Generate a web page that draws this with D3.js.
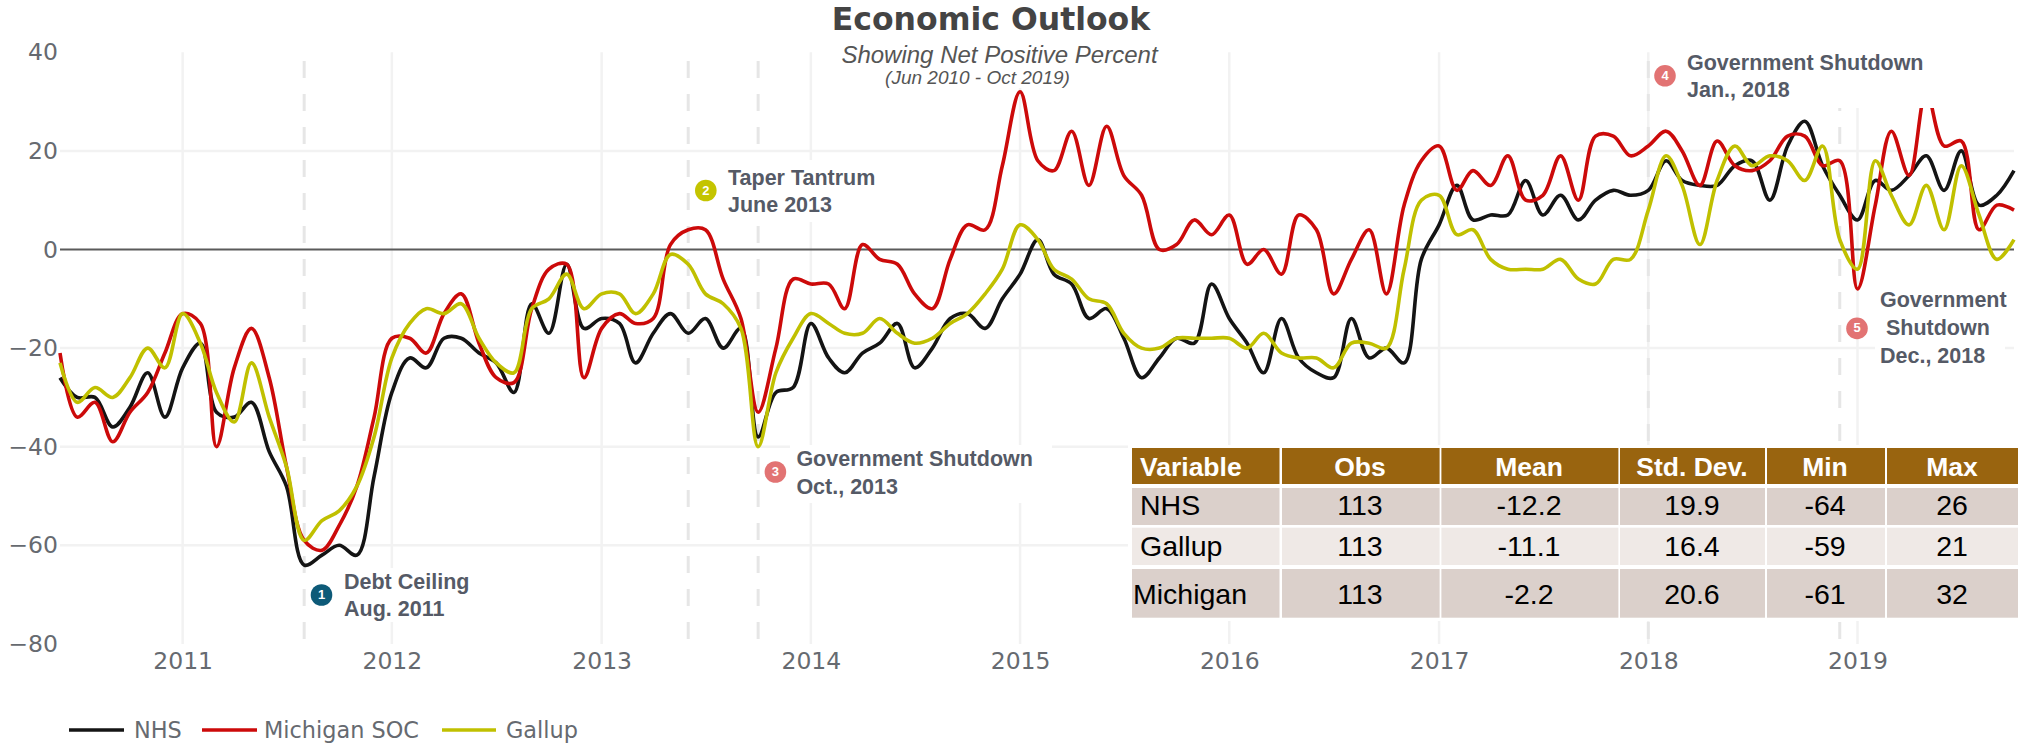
<!DOCTYPE html>
<html>
<head>
<meta charset="utf-8">
<script src="https://cdn.jsdelivr.net/npm/d3@7"></script>
<style>
html,body{margin:0;padding:0;background:#fff;overflow:hidden}
svg{display:block}
</style>
</head>
<body>
<svg id="chart" width="2020" height="743"></svg>
<script>
// ---- data ----
const NHS = [-26,-30,-30,-36,-32,-25,-34,-24,-19,-33,
 -34,-31,-41,-48,-64,-62,-60,-62,-46,-29,
 -22,-24,-18,-18,-21,-23,-29,-11,-17,-3,
 -16,-14,-15,-23,-17,-13,-17,-14,-20,-16,
 -38,-29,-28,-15,-22,-25,-21,-19,-15,-24,
 -20,-14,-13,-16,-10,-5,2,-5,-7,-14,
 -12,-18,-26,-22,-18,-19,-7,-14,-19,-25,
 -14,-22,-25,-26,-14,-22,-20,-23,-2,5,
 13,6,7,7,14,7,11,6,10,12,
 11,12,18,14,13,13,17,18,10,21,
 26,17,11,6,14,12,15,19,12,20,
 9,11,16];
const MICHIGAN = [-21,-34,-31,-39,-33,-29,-21,-13,-15,-40,
 -24,-16,-26,-44,-59,-61,-56,-48,-34,-18,
 -18,-21,-13,-9,-19,-26,-27,-12,-4,-3,
 -26,-16,-13,-15,-14,1,4,4,-6,-14,
 -33,-20,-6,-7,-7,-12,1,-2,-3,-9,
 -12,-2,5,4,17,32,18,16,24,13,
 25,15,11,0,1,6,3,7,-3,0,
 -5,7,4,-9,-2,4,-9,9,18,21,
 12,16,13,19,10,11,19,10,23,23,
 19,21,24,20,13,22,17,16,18,23,
 23,17,18,-8,9,24,15,32,21,22,
 4,9,8];
const GALLUP = [-23,-31,-28,-30,-26,-20,-24,-13,-19,-29,
 -35,-23,-34,-44,-59,-55,-53,-48,-38,-22,
 -15,-12,-13,-11,-18,-23,-25,-12,-10,-5,
 -12,-9,-9,-13,-9,-1,-3,-9,-11,-16,
 -40,-25,-18,-13,-15,-17,-17,-14,-17,-19,
 -18,-15,-13,-9,-4,5,2,-4,-6,-10,
 -11,-17,-20,-20,-18,-18,-18,-18,-20,-17,
 -21,-22,-22,-24,-19,-19,-20,-4,10,11,
 3,4,-2,-4,-4,-4,-2,-6,-7,-2,
 -2,8,19,13,1,14,21,17,19,18,
 14,21,2,-4,18,11,5,13,4,17,
 7,-2,2];
const SERIES_NAMES = ["NHS","Michigan SOC","Gallup"];
const YEARS = [2011,2012,2013,2014,2015,2016,2017,2018,2019];
const Y_TICKS = [-80,-60,-40,-20,0,20,40];
const EVENT_MONTHS = [[2011,7],[2013,5],[2013,9],[2018,0],[2018,11]];
const TABLE_HEAD = ["Variable","Obs","Mean","Std. Dev.","Min","Max"];
const TABLE_ROWS = [
 ["NHS","113","-12.2","19.9","-64","26"],
 ["Gallup","113","-11.1","16.4","-59","21"],
 ["Michigan","113","-2.2","20.6","-61","32"]];
const NOTES = [
 ["Debt Ceiling","Aug. 2011"],
 ["Taper Tantrum","June 2013"],
 ["Government Shutdown","Oct., 2013"],
 ["Government Shutdown","Jan., 2018"],
 ["Government"," Shutdown","Dec., 2018"]];
const TITLE = "Economic Outlook", SUB = "Showing Net Positive Percent", RANGE = "(Jun 2010 - Oct 2019)";

// ---- layout and styles ----
const L = {x0:60,x1:2014,yTop:52.3,yBot:643.9};
const COL = {nhs:"#141414",mich:"#cc0a0a",gallup:"#c0c000",grid:"#f2f2f2",tick:"#666a70",note:"#555a66"};
const NOTE_POS = [
 {cx:321.5,cy:595,c:"#0d5a78",x:344,ys:[581.5,609]},
 {cx:705.8,cy:190.5,c:"#c4c400",x:728,ys:[177.7,205]},
 {cx:775.4,cy:472,c:"#e27373",x:796.4,ys:[458.8,486.7]},
 {cx:1665,cy:75.8,c:"#e27373",x:1687,ys:[62.6,90]},
 {cx:1857,cy:328.4,c:"#e27373",x:1880,ys:[299.5,327.5,356.4]}];
const MASKS = [[835,0,335,88],[1655,0,365,108],[720,160,180,62],[790,445,262,58],
 [338,568,132,54],[1875,288,130,84],[1128,445,892,176]];
const COLS = [[1132,1279.5],[1282,1439.6],[1441.4,1618.4],[1620,1765],[1767,1885],[1887,2018]];
const COL_CX = [1140,1360,1529,1692,1825,1952];
const ROWS_Y = [[488,525,505],[527.7,565,546],[569,617.7,594]];
const ROW_FILL = ["#dbd0cb","#efe9e6","#dbd0cb"];
const ROW_LEFT = [1140,1140,1133];

const parse = (y,m)=>new Date(Date.UTC(y,m,1));
const months = d3.utcMonth.range(parse(2010,5),parse(2019,10));
const x = d3.scaleUtc().domain([parse(2010,5),parse(2019,9)]).range([L.x0,L.x1]);
const y = d3.scaleLinear().domain([-80,40]).range([L.yBot,L.yTop]);
const svg = d3.select("#chart");
const SANS = "'DejaVu Sans',Verdana,sans-serif", ARIAL = "'Liberation Sans',Arial,sans-serif";

// grid
svg.append("g").selectAll("line").data(Y_TICKS.filter(t=>t!==0&&t!==40&&t!==-80)).join("line")
  .attr("x1",L.x0).attr("x2",L.x1).attr("y1",d=>y(d)).attr("y2",d=>y(d))
  .attr("stroke",COL.grid).attr("stroke-width",2.5);
svg.append("g").selectAll("line").data(YEARS).join("line")
  .attr("x1",d=>x(parse(d,0))).attr("x2",d=>x(parse(d,0))).attr("y1",L.yTop).attr("y2",L.yBot)
  .attr("stroke",COL.grid).attr("stroke-width",2.5);
// event markers
svg.append("g").selectAll("line").data(EVENT_MONTHS).join("line")
  .attr("x1",d=>x(parse(d[0],d[1]))).attr("x2",d=>x(parse(d[0],d[1]))).attr("y1",61).attr("y2",L.yBot)
  .attr("stroke","#e6e6e6").attr("stroke-width",3).attr("stroke-dasharray","17 16");
// zero line
svg.append("line").attr("x1",L.x0).attr("x2",L.x1).attr("y1",y(0)).attr("y2",y(0))
  .attr("stroke","#5a5a5a").attr("stroke-width",1.8);

// axes
const ax = svg.append("g").attr("transform",`translate(0,${L.yBot})`)
  .call(d3.axisBottom(x).tickValues(YEARS.map(v=>parse(v,0))).tickFormat(d3.utcFormat("%Y")).tickSize(0).tickPadding(8));
const ay = svg.append("g").attr("transform",`translate(${L.x0-2},0)`)
  .call(d3.axisLeft(y).tickValues(Y_TICKS).tickSize(0).tickPadding(0));
[ax,ay].forEach(g=>{g.select(".domain").remove();
  g.selectAll("text").attr("fill",COL.tick).style("font-family",SANS).style("font-size","23.5px");});

// lines
const line = d3.line().x((d,i)=>x(months[i])).y(d=>y(d)).curve(d3.curveCatmullRom.alpha(0.5));
const lines = [[NHS,COL.nhs],[MICHIGAN,COL.mich],[GALLUP,COL.gallup]];
svg.append("g").selectAll("path").data(lines).join("path")
  .attr("d",d=>line(d[0])).attr("fill","none").attr("stroke",d=>d[1]).attr("stroke-width",3.6)
  .attr("stroke-linejoin","round");

// masks
svg.append("g").selectAll("rect").data(MASKS).join("rect")
  .attr("x",d=>d[0]).attr("y",d=>d[1]).attr("width",d=>d[2]).attr("height",d=>d[3]).attr("fill","#fff");

// titles
svg.append("text").attr("x",991).attr("y",30).attr("text-anchor","middle")
  .attr("font-family",SANS).attr("font-weight","bold").attr("font-size",31.5).attr("fill","#444").text(TITLE);
svg.append("text").attr("x",999.5).attr("y",63).attr("text-anchor","middle")
  .attr("font-family",ARIAL).attr("font-style","italic").attr("font-size",24).attr("fill","#555").text(SUB);
svg.append("text").attr("x",977.5).attr("y",84).attr("text-anchor","middle")
  .attr("font-family",ARIAL).attr("font-style","italic").attr("font-size",19).attr("fill","#555").text(RANGE);

// annotations
const notes = svg.append("g").selectAll("g").data(NOTES.map((t,i)=>({t,p:NOTE_POS[i],n:i+1}))).join("g");
notes.append("circle").attr("cx",d=>d.p.cx).attr("cy",d=>d.p.cy).attr("r",10.8).attr("fill",d=>d.p.c);
notes.append("text").attr("x",d=>d.p.cx).attr("y",d=>d.p.cy+4).attr("text-anchor","middle")
  .attr("font-family",ARIAL).attr("font-weight","bold").attr("font-size",13).attr("fill","#fff").text(d=>d.n);
notes.each(function(d){
  d3.select(this).selectAll("text.l").data(d.t).join("text").attr("class","l")
    .attr("x",d.p.x).attr("y",(s,i)=>d.p.ys[i]+7).attr("xml:space","preserve").style("white-space","pre")
    .attr("font-family",ARIAL).attr("font-weight","bold").attr("font-size",21.5).attr("fill",COL.note).text(s=>s);
});

// table
const tbl = svg.append("g").attr("font-family",ARIAL);
tbl.selectAll("rect.h").data(COLS).join("rect").attr("class","h")
  .attr("x",d=>d[0]).attr("width",d=>d[1]-d[0]).attr("y",448).attr("height",36).attr("fill","#99640f");
tbl.selectAll("text.h").data(TABLE_HEAD).join("text").attr("class","h")
  .attr("x",(d,i)=>COL_CX[i]).attr("y",476).attr("text-anchor",(d,i)=>i?"middle":"start")
  .attr("font-weight","bold").attr("font-size",26.5).attr("fill","#fff").text(d=>d);
TABLE_ROWS.forEach((r,ri)=>{
  const Y = ROWS_Y[ri];
  tbl.append("g").selectAll("rect").data(COLS).join("rect")
    .attr("x",d=>d[0]).attr("width",d=>d[1]-d[0]).attr("y",Y[0]).attr("height",Y[1]-Y[0]).attr("fill",ROW_FILL[ri]);
  tbl.append("g").selectAll("text").data(r).join("text")
    .attr("x",(d,i)=>i?COL_CX[i]:ROW_LEFT[ri]).attr("y",Y[2]+10).attr("text-anchor",(d,i)=>i?"middle":"start")
    .attr("font-size",28.5).attr("fill","#000").text(d=>d);
});

// legend
const LEG = [[69,124,134],[202,257,264],[442,496,506]];
const leg = svg.append("g").selectAll("g").data(SERIES_NAMES.map((n,i)=>({n,p:LEG[i],c:lines[i][1]}))).join("g");
leg.append("line").attr("x1",d=>d.p[0]).attr("x2",d=>d.p[1]).attr("y1",730).attr("y2",730)
  .attr("stroke",d=>d.c).attr("stroke-width",3.6);
leg.append("text").attr("x",d=>d.p[2]).attr("y",738).attr("font-family",SANS).attr("font-size",22.4)
  .attr("fill",COL.tick).text(d=>d.n);
</script>
</body>
</html>
